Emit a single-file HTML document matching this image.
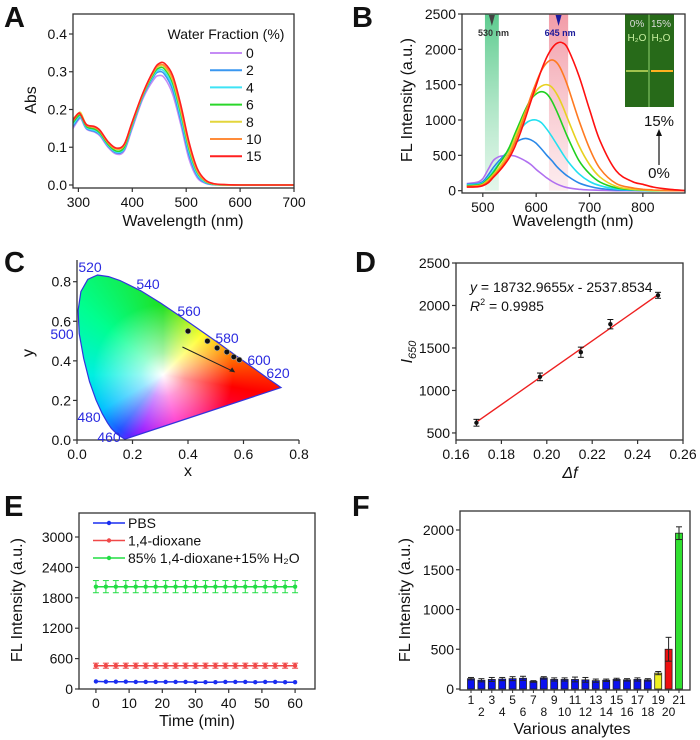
<!DOCTYPE html>
<html><head><meta charset="utf-8">
<style>
html,body{margin:0;padding:0;background:#fff;}
#wrap{position:relative;width:700px;height:740px;overflow:hidden;background:#fff;font-family:"Liberation Sans",Arial,sans-serif;}
#cie{position:absolute;left:0;top:0;width:700px;height:740px;}
#fig{position:absolute;left:0;top:0;}
text{font-family:"Liberation Sans",Arial,sans-serif;}
</style></head>
<body>
<div id="wrap">
<div id="cie"></div>
<svg id="fig" width="700" height="740" viewBox="0 0 700 740"></svg>
</div>
<script>
// ---------- Panel A data ----------
const aWl = [290,300,305,315,330,340,355,370,385,400,420,440,450,460,475,490,505,520,535,550,570,600,700];
const aSeriesNames = ['0','2','4','6','8','10','15'];
const aColors = ['#c58cf5','#3a97f0','#3fe3f5','#2ad62a','#e3d53c','#ff8c3a','#ff2020'];
const aS0 = [.15,.172,.175,.148,.14,.13,.1,.082,.09,.15,.23,.28,.29,.283,.24,.16,.07,.02,.005,.001,0,0,0];
const aS2 = [.155,.175,.178,.15,.142,.133,.103,.085,.094,.155,.235,.288,.30,.293,.252,.17,.08,.025,.006,.001,0,0,0];
const aS4 = [.16,.18,.18,.152,.145,.135,.105,.088,.097,.158,.238,.292,.305,.30,.262,.18,.09,.03,.008,.002,0,0,0];
const aS6 = [.165,.183,.183,.155,.148,.138,.108,.09,.1,.162,.24,.296,.31,.307,.27,.19,.097,.035,.01,.002,0,0,0];
const aS8 = [.175,.19,.19,.16,.153,.143,.112,.095,.105,.165,.242,.3,.315,.312,.277,.197,.103,.038,.011,.003,0,0,0];
const aS10 = [.17,.188,.185,.158,.152,.142,.112,.096,.106,.166,.243,.302,.318,.316,.282,.203,.108,.04,.012,.003,.001,0,0];
const aS15 = [.172,.19,.185,.16,.155,.145,.115,.098,.108,.168,.245,.305,.322,.322,.29,.212,.115,.045,.014,.004,.001,0,0];
const aXTicks = [300,400,500,600,700];
const aYTicks = [0,0.1,0.2,0.3,0.4];
// ---------- Panel B data ----------
const bWl = [470,490,500,510,520,530,540,550,560,570,580,590,600,610,620,630,640,650,660,680,700,720,750,780,800,820,850,880];
const bColors = ['#b070f0','#2a88e8','#22e0f0','#20d020','#e8d020','#ff7a20','#ff1010'];
const bS0 = [100,120,170,300,430,480,495,500,490,460,420,370,300,240,180,130,90,60,40,20,10,5,0,0,0,0,0,0];
const bS2 = [90,100,130,220,330,420,500,580,670,720,740,720,670,590,500,420,330,260,200,110,60,30,10,5,0,0,0,0];
const bS4 = [80,90,110,180,280,380,480,600,730,860,950,995,1000,960,870,760,640,520,410,240,130,70,25,10,5,0,0,0];
const bS6 = [70,80,100,170,260,370,480,620,800,980,1150,1290,1370,1400,1370,1260,1100,920,740,430,240,120,40,15,8,0,0,0];
const bS8 = [60,70,90,150,230,320,430,560,740,930,1120,1290,1410,1480,1500,1460,1350,1190,1000,640,370,190,60,20,10,5,0,0];
const bS10 = [60,65,80,130,210,290,390,510,680,880,1100,1330,1530,1700,1810,1850,1800,1660,1460,1000,600,310,100,40,20,10,0,0];
const bS15 = [50,55,70,110,190,270,360,470,620,810,1030,1260,1490,1710,1890,2020,2090,2090,2000,1630,1150,700,280,130,90,50,20,0];
const bXTicks = [500,600,700,800];
const bYTicks = [0,500,1000,1500,2000,2500];
// ---------- Panel C data ----------
const cLocusX = [0.174,0.171,0.157,0.144,0.124,0.110,0.091,0.069,0.045,0.024,0.008,0.004,0.014,0.039,0.074,0.114,0.155,0.230,0.302,0.373,0.444,0.513,0.575,0.627,0.691,0.719,0.735];
const cLocusY = [0.005,0.005,0.018,0.030,0.058,0.087,0.133,0.201,0.295,0.412,0.538,0.655,0.750,0.812,0.834,0.826,0.806,0.754,0.692,0.624,0.555,0.487,0.424,0.373,0.308,0.281,0.265];
const cPtX = [0.40,0.47,0.505,0.54,0.565,0.585];
const cPtY = [0.55,0.50,0.465,0.445,0.42,0.405];
const cTicks = [0,0.2,0.4,0.6,0.8];
const cYTicks = [0,0.2,0.4,0.6,0.8];
// ---------- Panel D data ----------
const dX = [0.169,0.197,0.215,0.228,0.249];
const dY = [620,1160,1450,1780,2120];
const dErr = [40,45,60,55,35];
const dXTicks = [0.16,0.18,0.20,0.22,0.24,0.26];
const dYTicks = [500,1000,1500,2000,2500];
// ---------- Panel E data ----------
const eTime = [0,3,6,9,12,15,18,21,24,27,30,33,36,39,42,45,48,51,54,57,60];
const ePBS = [150,145,145,145,140,140,140,140,140,140,135,135,135,140,140,140,135,140,140,135,135];
const eDiox = [460,460,460,460,460,460,460,460,460,460,460,460,460,460,460,460,460,460,460,460,460];
const eMix = [2020,2020,2020,2020,2020,2020,2020,2020,2020,2020,2020,2020,2020,2020,2020,2020,2020,2020,2020,2020,2020];
const eXTicks = [0,10,20,30,40,50,60];
const eYTicks = [0,600,1200,1800,2400,3000];
// ---------- Panel F data ----------
const fCats = [1,2,3,4,5,6,7,8,9,10,11,12,13,14,15,16,17,18,19,20,21];
const fVals = [130,110,120,125,130,135,95,140,120,120,120,115,105,110,120,115,120,115,200,500,1960];
const fErr = [15,20,25,20,25,25,10,15,20,20,30,30,20,15,15,15,20,15,20,150,80];
const fYTicks = [0,500,1000,1500,2000];

const NS='http://www.w3.org/2000/svg';
const svg=document.getElementById('fig');
function mk(tag,attrs,name,parent){
  const el=document.createElementNS(NS,tag);
  for(const k in attrs) el.setAttribute(k,attrs[k]);
  
  
  (parent||svg).appendChild(el);
  return el;
}
function txt(x,y,s,name,opt){
  opt=opt||{};
  const el=mk('text',{x:x,y:y,'font-size':opt.size||14,'text-anchor':opt.anchor||'middle',fill:opt.fill||'#111'},name);
  if(opt.rot!==undefined) el.setAttribute('transform','rotate('+opt.rot+' '+x+' '+y+')');
  if(opt.italic) el.setAttribute('font-style','italic');
  if(opt.weight) el.setAttribute('font-weight',opt.weight);
  if(opt.family) el.setAttribute('font-family',opt.family);
  el.textContent=s;
  return el;
}
function lin(d0,d1,p0,p1){return v=>p0+(v-d0)*(p1-p0)/(d1-d0);}
function smooth(pts){
  let d='M'+pts[0][0].toFixed(1)+','+pts[0][1].toFixed(1);
  for(let i=0;i<pts.length-1;i++){
    const p0=pts[Math.max(0,i-1)],p1=pts[i],p2=pts[i+1],p3=pts[Math.min(pts.length-1,i+2)];
    const c1=[p1[0]+(p2[0]-p0[0])/6,p1[1]+(p2[1]-p0[1])/6];
    const c2=[p2[0]-(p3[0]-p1[0])/6,p2[1]-(p3[1]-p1[1])/6];
    d+='C'+c1[0].toFixed(1)+','+c1[1].toFixed(1)+' '+c2[0].toFixed(1)+','+c2[1].toFixed(1)+' '+p2[0].toFixed(1)+','+p2[1].toFixed(1);
  }
  return d;
}
function frame(L,T,R,B,name){
  mk('rect',{x:L,y:T,width:R-L,height:B-T,fill:'none',stroke:'#333','stroke-width':1.3},name);
}
function xAxisTicks(ticks,sx,B,fmt,name){
  ticks.forEach(t=>{
    mk('line',{x1:sx(t),x2:sx(t),y1:B,y2:B+4,stroke:'#333','stroke-width':1.2},name+'-tick');
    txt(sx(t),B+19,fmt(t),name+'-label');
  });
}
function yAxisTicks(ticks,sy,L,fmt,name){
  ticks.forEach(t=>{
    mk('line',{x1:L-4,x2:L,y1:sy(t),y2:sy(t),stroke:'#333','stroke-width':1.2},name+'-tick');
    txt(L-6,sy(t)+5,fmt(t),name+'-label',{anchor:'end'});
  });
}
function panelLetter(x,y,s){txt(x,y,s,'panel-label-'+s.toLowerCase(),{size:29,anchor:'start',weight:'bold'});}

// ================= Panel A =================
(function(){
  const L=73,R=294,T=14,B=188;
  const sx=lin(290,700,L,R), sy=lin(-0.008,0.453,B,T);
  panelLetter(4,27,'A');
  const series=[aS0,aS2,aS4,aS6,aS8,aS10,aS15];
  series.forEach((s,i)=>{
    const pts=aWl.map((w,j)=>[sx(w),sy(s[j])]);
    mk('path',{d:smooth(pts),fill:'none',stroke:aColors[i],'stroke-width':1.6},'abs-curve-'+aSeriesNames[i]);
  });
  frame(L,T,R,B,'panel-a-frame');
  xAxisTicks(aXTicks,sx,B,t=>String(t),'a-x');
  yAxisTicks(aYTicks,sy,L,t=>t.toFixed(1),'a-y');
  txt(183,226,'Wavelength (nm)','a-x-title',{size:16});
  txt(36,100,'Abs','a-y-title',{size:16,rot:-90});
  txt(226,39,'Water Fraction (%)','a-legend-title',{size:14});
  aSeriesNames.forEach((n,i)=>{
    const y=53+i*17.2;
    mk('line',{x1:210,x2:242,y1:y,y2:y,stroke:aColors[i],'stroke-width':2},'a-legend-line-'+n);
    txt(246,y+5,n,'a-legend-label-'+n,{anchor:'start'});
  });
})();

// ================= Panel B =================
(function(){
  const L=462,R=685,T=14,B=193;
  const sx=lin(461,879,L,R), sy=lin(-33,2500,B,T);
  panelLetter(352,27,'B');
  const gg=mk('linearGradient',{id:'gband',x1:0,y1:0,x2:0,y2:1},'green-band-gradient');
  mk('stop',{offset:'0','stop-color':'#3fc27a','stop-opacity':'0.85'},'gstop',gg);
  mk('stop',{offset:'1','stop-color':'#c8eed6','stop-opacity':'0.5'},'gstop',gg);
  const rg=mk('linearGradient',{id:'rband',x1:0,y1:0,x2:0,y2:1},'red-band-gradient');
  mk('stop',{offset:'0','stop-color':'#f08a98','stop-opacity':'0.85'},'rstop',rg);
  mk('stop',{offset:'1','stop-color':'#fbe0e4','stop-opacity':'0.6'},'rstop',rg);
  mk('rect',{x:sx(504),y:T,width:sx(530)-sx(504),height:sy(0)-T,fill:'url(#gband)'},'band-530nm');
  mk('rect',{x:sx(624),y:T,width:sx(660)-sx(624),height:sy(0)-T,fill:'url(#rband)'},'band-645nm');
  const series=[bS0,bS2,bS4,bS6,bS8,bS10,bS15];
  series.forEach((s,i)=>{
    const pts=bWl.map((w,j)=>[sx(w),sy(s[j])]);
    mk('path',{d:smooth(pts),fill:'none',stroke:bColors[i],'stroke-width':1.6},'fl-curve-'+aSeriesNames[i]);
  });
  mk('path',{d:'M'+(sx(517)-3)+','+(T+1)+' L'+(sx(517)+3)+','+(T+1)+' L'+sx(517)+','+(T+12)+'Z',fill:'#444'},'marker-530');
  mk('path',{d:'M'+(sx(642)-3)+','+(T+1)+' L'+(sx(642)+3)+','+(T+1)+' L'+sx(642)+','+(T+12)+'Z',fill:'#1a1aa0'},'marker-645');
  txt(sx(520),36,'530 nm','label-530nm',{size:9,family:'Liberation Serif',weight:'bold',fill:'#333'});
  txt(sx(645),36,'645 nm','label-645nm',{size:9,family:'Liberation Serif',weight:'bold',fill:'#1a1a9a'});
  mk('rect',{x:625,y:14,width:49,height:93,fill:'#2f7a20'},'inset-photo');
  mk('rect',{x:625,y:14,width:49,height:93,fill:'#1f5a12',opacity:0.5},'inset-shade');
  mk('line',{x1:649,x2:649,y1:14,y2:107,stroke:'#8fd070','stroke-width':1},'inset-divider');
  mk('line',{x1:626,x2:648,y1:71,y2:71,stroke:'#c8e060','stroke-width':1.5},'inset-band-left');
  mk('line',{x1:651,x2:673,y1:71,y2:71,stroke:'#ffb020','stroke-width':2},'inset-band-right');
  txt(637,27,'0%','inset-0pct',{size:10,fill:'#ddd'});
  txt(661,27,'15%','inset-15pct',{size:10,fill:'#ddd'});
  txt(637,41,'H₂O','inset-h2o-left',{size:10,fill:'#c8f0a0'});
  txt(661,41,'H₂O','inset-h2o-right',{size:10,fill:'#c8f0a0'});
  txt(659,126,'15%','arrow-label-15',{size:15});
  txt(659,178,'0%','arrow-label-0',{size:15});
  mk('line',{x1:659,x2:659,y1:165,y2:134,stroke:'#111','stroke-width':1.2},'increase-arrow');
  mk('path',{d:'M656,136 L662,136 L659,129Z',fill:'#111'},'increase-arrowhead');
  frame(L,T,R,B,'panel-b-frame');
  xAxisTicks(bXTicks,sx,B,t=>String(t),'b-x');
  yAxisTicks(bYTicks,sy,L,t=>String(t),'b-y');
  txt(573,226,'Wavelength (nm)','b-x-title',{size:16});
  txt(412,100,'FL Intensity (a.u.)','b-y-title',{size:16,rot:-90});
})();

// ================= Panel C =================
(function(){
  const sx=lin(0,0.8,77,299), sy=lin(0,0.8,440,281.7);
  panelLetter(4,272,'C');
  const poly=cLocusX.map((x,i)=>sx(x).toFixed(1)+'px '+sy(cLocusY[i]).toFixed(1)+'px').join(',');
  const d=document.getElementById('cie');
  const wx=sx(0.31),wy=sy(0.33);
  d.style.background='radial-gradient(circle at '+wx+'px '+wy+'px, rgba(255,255,255,1) 0px, rgba(255,255,255,0.6) 22px, rgba(255,255,255,0) 70px), '+
    'conic-gradient(from 0deg at '+wx+'px '+wy+'px, #20e020 0deg, #a0f000 25deg, #ffff00 45deg, #ff9000 70deg, #ff0000 100deg, #ff0060 130deg, #ff00c0 165deg, #9000ff 200deg, #2050ff 218deg, #00c0ff 240deg, #00f0e0 270deg, #00ff90 310deg, #20e020 360deg)';
  d.style.clipPath='polygon('+poly+')';
  const pts=cLocusX.map((x,i)=>sx(x).toFixed(1)+','+sy(cLocusY[i]).toFixed(1)).join(' ');
  mk('polygon',{points:pts,fill:'none',stroke:'#3333dd','stroke-width':1.2},'cie-locus-outline');
  mk('line',{x1:77,x2:77,y1:260,y2:440,stroke:'#333','stroke-width':1.3},'c-y-axis');
  mk('line',{x1:77,x2:299,y1:440,y2:440,stroke:'#333','stroke-width':1.3},'c-x-axis');
  cTicks.forEach(t=>{
    mk('line',{x1:sx(t),x2:sx(t),y1:440,y2:444,stroke:'#333','stroke-width':1.2},'c-x-tick');
    txt(sx(t),459,t.toFixed(1),'c-x-label');
  });
  cYTicks.forEach(t=>{
    mk('line',{x1:73,x2:77,y1:sy(t),y2:sy(t),stroke:'#333','stroke-width':1.2},'c-y-tick');
    txt(71,sy(t)+5,t.toFixed(1),'c-y-label',{anchor:'end'});
  });
  txt(188,476,'x','c-x-title',{size:16});
  txt(33,353,'y','c-y-title',{size:16,rot:-90});
  const wl=[['520',90,272],['540',148,289],['560',189,316],['580',227,343],['600',259,365],['620',278,378],['500',62,339],['480',89,422],['460',109,442]];
  wl.forEach(w=>txt(w[1],w[2],w[0],'wavelength-label-'+w[0],{size:14,fill:'#2a2ae0'}));
  mk('line',{x1:sx(0.38),y1:sy(0.47),x2:sx(0.565),y2:sy(0.345),stroke:'#222','stroke-width':1},'shift-arrow');
  mk('path',{d:'M'+sx(0.57)+','+sy(0.342)+' l-6,-1 l3,-4Z',fill:'#222'},'shift-arrowhead');
  cPtX.forEach((x,i)=>{
    mk('circle',{cx:sx(x),cy:sy(cPtY[i]),r:2.8,fill:'#111',stroke:'#aaa','stroke-width':0.6},'cie-point');
  });
})();

// ================= Panel D =================
(function(){
  const L=456,R=683,T=263,B=440;
  const sx=lin(0.16,0.26,L,R), sy=lin(417,2500,B,T);
  panelLetter(355,272,'D');
  const slope=18732.9655, icpt=-2537.8534;
  mk('line',{x1:sx(0.169),y1:sy(slope*0.169+icpt),x2:sx(0.249),y2:sy(slope*0.249+icpt),stroke:'#ee2020','stroke-width':1.4},'fit-line');
  dX.forEach((x,i)=>{
    const cx=sx(x);
    mk('line',{x1:cx,x2:cx,y1:sy(dY[i]-dErr[i]),y2:sy(dY[i]+dErr[i]),stroke:'#111','stroke-width':1},'d-errorbar');
    mk('line',{x1:cx-3,x2:cx+3,y1:sy(dY[i]+dErr[i]),y2:sy(dY[i]+dErr[i]),stroke:'#111','stroke-width':1},'d-errorcap');
    mk('line',{x1:cx-3,x2:cx+3,y1:sy(dY[i]-dErr[i]),y2:sy(dY[i]-dErr[i]),stroke:'#111','stroke-width':1},'d-errorcap');
    mk('circle',{cx:cx,cy:sy(dY[i]),r:2.2,fill:'#111'},'d-point');
  });
  frame(L,T,R,B,'panel-d-frame');
  xAxisTicks(dXTicks,sx,B,t=>t.toFixed(2),'d-x');
  yAxisTicks(dYTicks,sy,L,t=>String(t),'d-y');
  const eq=txt(470,292,'','regression-equation',{size:14,anchor:'start'});
  eq.innerHTML='<tspan font-style="italic">y</tspan> = 18732.9655<tspan font-style="italic">x</tspan> - 2537.8534';
  const r2=txt(470,311,'','r-squared',{size:14,anchor:'start'});
  r2.innerHTML='<tspan font-style="italic">R</tspan><tspan font-size="9" dy="-6">2</tspan><tspan dy="6"> = 0.9985</tspan>';
  txt(570,478,'Δf','d-x-title',{size:16,italic:true});
  const yt=txt(412,352,'','d-y-title',{size:16,rot:-90,italic:true});
  yt.innerHTML='I<tspan font-size="11" dy="4">650</tspan>';
})();

// ================= Panel E =================
(function(){
  const L=79,R=315,T=513,B=689;
  const sx=lin(-5.1,66,L,R), sy=lin(0,3000,B,537);
  panelLetter(4,516,'E');
  function series(vals,err,color,name){
    mk('path',{d:'M'+eTime.map((t,i)=>sx(t).toFixed(1)+','+sy(vals[i]).toFixed(1)).join('L'),fill:'none',stroke:color,'stroke-width':1.5},name+'-line');
    eTime.forEach((t,i)=>{
      const cx=sx(t),cy=sy(vals[i]);
      if(err>0){
        mk('line',{x1:cx,x2:cx,y1:sy(vals[i]-err),y2:sy(vals[i]+err),stroke:color,'stroke-width':1},name+'-errorbar');
        mk('line',{x1:cx-3,x2:cx+3,y1:sy(vals[i]+err),y2:sy(vals[i]+err),stroke:color,'stroke-width':1},name+'-errorcap');
        mk('line',{x1:cx-3,x2:cx+3,y1:sy(vals[i]-err),y2:sy(vals[i]-err),stroke:color,'stroke-width':1},name+'-errorcap');
      }
      mk('circle',{cx:cx,cy:cy,r:2.2,fill:color},name+'-point');
    });
  }
  series(eMix,120,'#22dd44','mix');
  series(eDiox,50,'#f04848','dioxane');
  series(ePBS,0,'#1a2ef0','pbs');
  frame(L,T,R,B,'panel-e-frame');
  xAxisTicks(eXTicks,sx,B,t=>String(t),'e-x');
  yAxisTicks(eYTicks,sy,L,t=>String(t),'e-y');
  txt(197,726,'Time (min)','e-x-title',{size:16});
  txt(22,600,'FL Intensity (a.u.)','e-y-title',{size:16,rot:-90});
  const leg=[['PBS','#1a2ef0'],['1,4-dioxane','#f04848'],['85% 1,4-dioxane+15% H₂O','#22dd44']];
  leg.forEach((l,i)=>{
    const y=523+i*17.5;
    mk('line',{x1:93,x2:125,y1:y,y2:y,stroke:l[1],'stroke-width':1.6},'e-legend-line');
    mk('circle',{cx:109,cy:y,r:2.2,fill:l[1]},'e-legend-marker');
    txt(128,y+5,l[0],'e-legend-label',{anchor:'start',size:14});
  });
})();

// ================= Panel F =================
(function(){
  const L=460,R=690,T=511,B=690;
  const sx=lin(1,21,471,679), sy=lin(0,2000,689,530);
  panelLetter(352,516,'F');
  fCats.forEach((c,i)=>{
    const color=i===18?'#f0f020':(i===19?'#ee1010':(i===20?'#30e030':'#0a10f0'));
    const x=sx(c), w=7;
    mk('rect',{x:x-w/2,y:sy(fVals[i]),width:w,height:sy(0)-sy(fVals[i]),fill:color,stroke:'#222','stroke-width':0.8},'bar-'+c);
    mk('line',{x1:x,x2:x,y1:sy(fVals[i]-fErr[i]),y2:sy(fVals[i]+fErr[i]),stroke:'#222','stroke-width':1},'f-errorbar');
    mk('line',{x1:x-3,x2:x+3,y1:sy(fVals[i]+fErr[i]),y2:sy(fVals[i]+fErr[i]),stroke:'#222','stroke-width':1},'f-errorcap');
    mk('line',{x1:x-3,x2:x+3,y1:sy(fVals[i]-fErr[i]),y2:sy(fVals[i]-fErr[i]),stroke:'#222','stroke-width':1},'f-errorcap');
    mk('line',{x1:x,x2:x,y1:B,y2:B+3,stroke:'#333','stroke-width':1},'f-x-tick');
    txt(x,c%2===1?704:716,String(c),'f-x-label',{size:12});
  });
  frame(L,T,R,B,'panel-f-frame');
  yAxisTicks(fYTicks,sy,L,t=>String(t),'f-y');
  txt(572,734,'Various analytes','f-x-title',{size:16});
  txt(410,600,'FL Intensity (a.u.)','f-y-title',{size:16,rot:-90});
})();
</script>
</body></html>
